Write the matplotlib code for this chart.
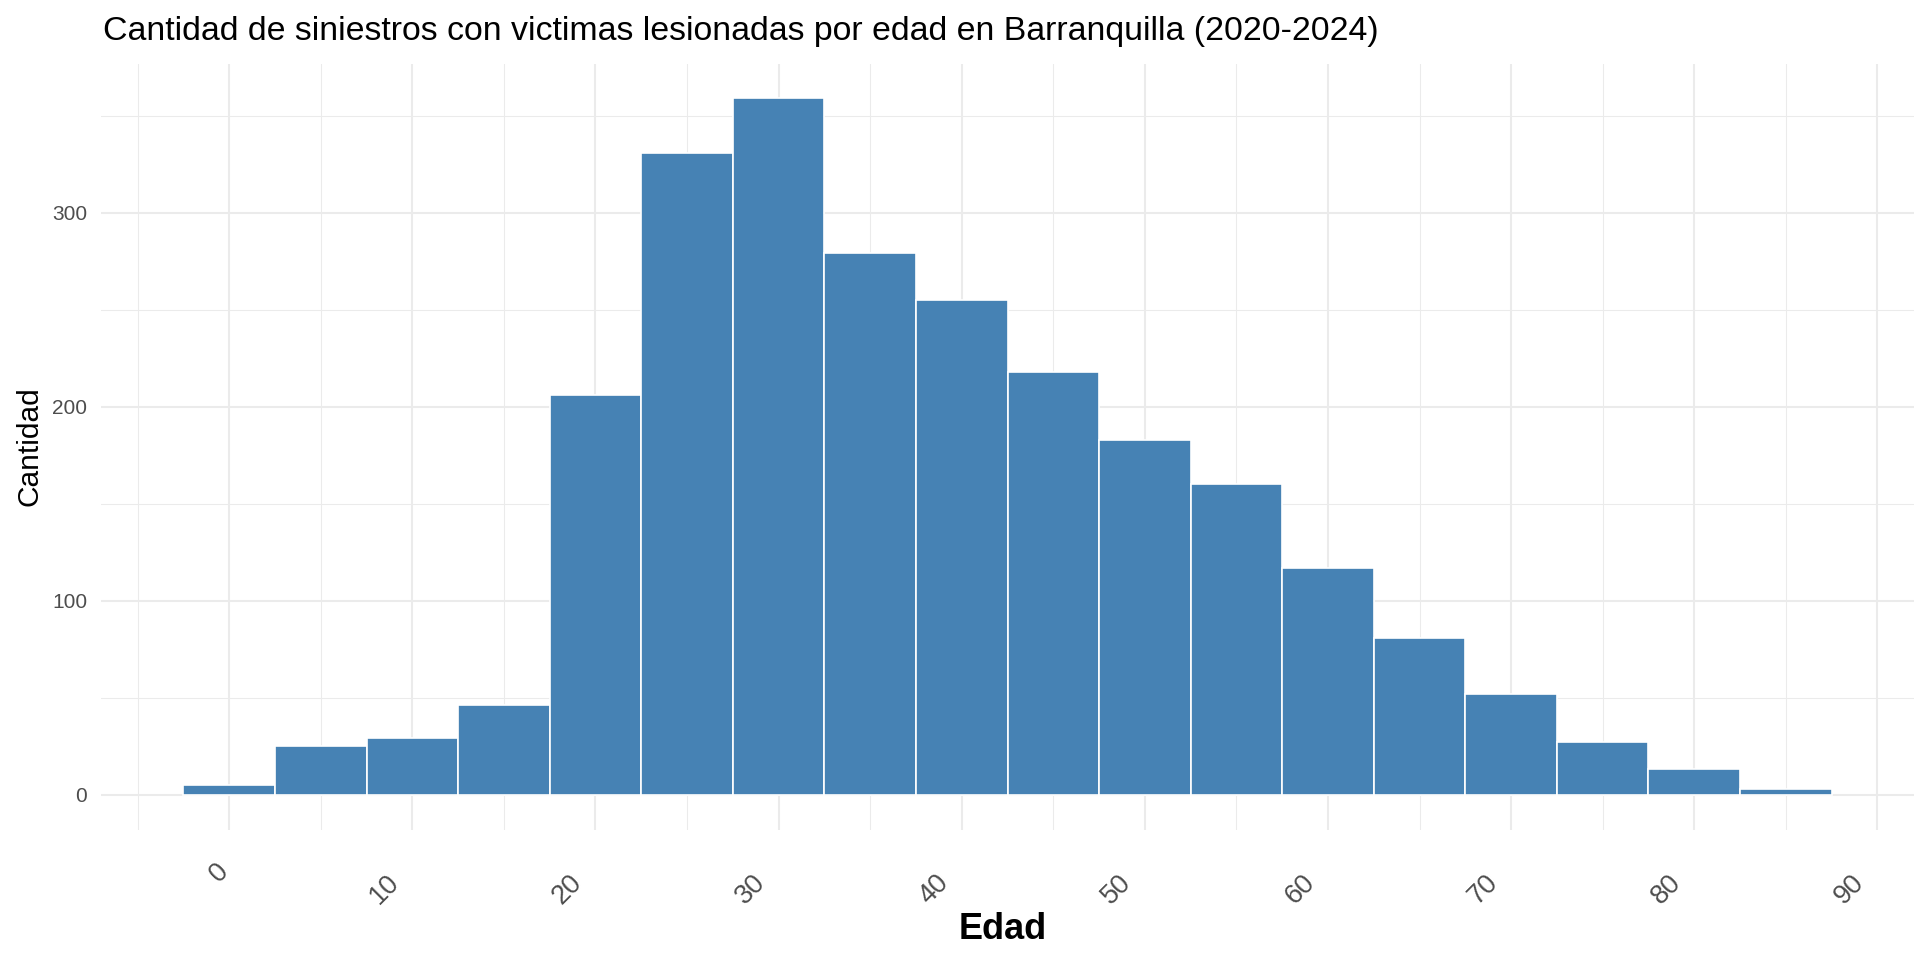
import numpy as np
import matplotlib.pyplot as plt
from matplotlib.ticker import MultipleLocator
from matplotlib.transforms import ScaledTranslation

# Histogram counts (bins 5 years wide, centred on 0, 5, ..., 85)
edad_centros = [0, 5, 10, 15, 20, 25, 30, 35, 40, 45, 50, 55, 60, 65, 70, 75, 80, 85]
cantidad = [5, 25, 29, 46, 206, 331, 359, 279, 255, 218, 183, 160, 117, 81, 52, 27, 13, 3]
x_ticks = [0, 10, 20, 30, 40, 50, 60, 70, 80, 90]
y_ticks = [0, 100, 200, 300]

plt.rcParams['font.family'] = ['Liberation Sans', 'DejaVu Sans']

fig = plt.figure(figsize=(19.2, 9.6), dpi=100)
ax = fig.add_axes([101 / 1920, 1 - 829.5 / 960, 1813 / 1920, 766 / 960])

ax.bar(edad_centros, cantidad, width=5, color='#4682B4', edgecolor='white',
       linewidth=1.2, zorder=3)

ax.set_xlim(-7, 92)
ax.set_ylim(-17.95, 376.95)
ax.set_xticks(x_ticks)
ax.set_yticks(y_ticks)
ax.xaxis.set_minor_locator(MultipleLocator(5))
ax.yaxis.set_minor_locator(MultipleLocator(50))

ax.grid(which='major', color='#EBEBEB', linewidth=1.5, zorder=0)
ax.grid(which='minor', color='#EBEBEB', linewidth=0.75, zorder=0)
ax.set_axisbelow(True)

for s in ax.spines.values():
    s.set_visible(False)
ax.tick_params(which='both', length=0)
ax.tick_params(axis='y', labelsize=15, labelcolor='#4D4D4D', pad=10)
ax.set_xticklabels([])

# rotated x labels placed below the panel (offsets in pixels, as in the original)
for t in x_ticks:
    lab = str(t)
    n = len(lab)
    dx = -10 - 18 * (n - 1)
    dy = 43 + 16.5 * (n - 1)
    tr = ax.get_xaxis_transform() + ScaledTranslation(dx / 100, -dy / 100, fig.dpi_scale_trans)
    ax.text(t, 0, lab, transform=tr, rotation=45, rotation_mode='anchor',
            ha='center', va='center', fontsize=19.5, color='#4D4D4D')

fig.text(103 / 1920, 1 - 40 / 960,
         'Cantidad de siniestros con victimas lesionadas por edad en Barranquilla (2020-2024)',
         fontsize=24.4, ha='left', va='baseline', color='black')
fig.text(1003 / 1920, 1 - 939 / 960, 'Edad', fontsize=26, fontweight='bold',
         ha='center', va='baseline', color='black')
fig.text(44 / 1920, 1 - 446 / 960, 'Cantidad', fontsize=21.5, rotation=90,
         ha='right', va='center', color='black')

fig.savefig('out.png', dpi=100, facecolor='white')
